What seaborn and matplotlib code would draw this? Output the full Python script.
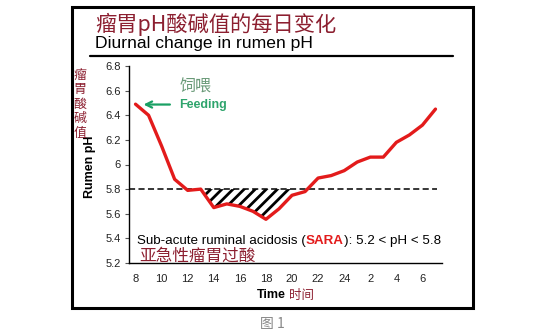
import numpy as np
import pandas as pd
import matplotlib
matplotlib.use("Agg")
import matplotlib.pyplot as plt
from matplotlib.patches import Rectangle
from matplotlib.lines import Line2D
import seaborn as sns

# ---- data ----
hours = [8, 9, 10, 11, 12, 13, 14, 15, 16, 17, 18, 19, 20, 21, 22, 23, 24, 25, 26, 27, 28, 29, 30, 31]
rumen_ph = [6.49, 6.40, 6.15, 5.88, 5.79, 5.80, 5.65, 5.68, 5.66, 5.62, 5.555, 5.64,
            5.75, 5.78, 5.89, 5.91, 5.95, 6.02, 6.06, 6.06, 6.18, 6.24, 6.32, 6.45]
tick_hours = [8, 10, 12, 14, 16, 18, 20, 22, 24, 26, 28, 30]
tick_labels = ["8", "10", "12", "14", "16", "18", "20", "22", "24", "2", "4", "6"]
y_ticks = [5.2, 5.4, 5.6, 5.8, 6.0, 6.2, 6.4, 6.6, 6.8]
y_tick_labels = ["5.2", "5.4", "5.6", "5.8", "6", "6.2", "6.4", "6.6", "6.8"]
sara_threshold = 5.8
sara_start, sara_end = 13.3, 19.9
feeding_hour, feeding_ph = 8.4, 6.487

sns.set_theme(style="white")
plt.rcParams['font.family'] = ['Liberation Sans', 'Noto Sans CJK SC']
plt.rcParams['hatch.linewidth'] = 2.0

CJK = ['Noto Sans CJK SC', 'DejaVu Sans']
DARKRED = '#8c1f30'

fig = plt.figure(figsize=(5.45, 3.36), dpi=100)
fig.patch.set_facecolor('white')
ax = fig.add_axes([129/545, 73/336, 313/545, 197/336])

df = pd.DataFrame({"hour": hours, "ph": rumen_ph})

# hatched SARA area
xs = np.linspace(sara_start, sara_end, 200)
ys = np.interp(xs, hours, rumen_ph)
ax.fill_between(xs, ys, sara_threshold, where=ys <= sara_threshold, interpolate=True,
                facecolor='white', edgecolor='black', hatch='///', linewidth=0, zorder=1)

ax.hlines(sara_threshold, 7.5, 31.1, colors='black', linestyles=(0, (4, 2.2)), linewidth=1.1, zorder=2)

sns.lineplot(data=df, x="hour", y="ph", ax=ax, color='#e31b1b', linewidth=2.4, zorder=3)

ax.set_xlim(7.5, 31.5)
ax.set_ylim(5.2, 6.8)
ax.set_xticks(tick_hours)
ax.set_xticklabels(tick_labels, fontsize=8, color='#222222')
ax.set_yticks(y_ticks)
ax.set_yticklabels(y_tick_labels, fontsize=8, color='#222222')
ax.tick_params(axis='y', left=True, direction='out', length=3, width=0.8, color='#555555', pad=3)
ax.tick_params(axis='x', bottom=False, length=0, pad=8)
for s in ['top', 'right']:
    ax.spines[s].set_visible(False)
for s in ['left', 'bottom']:
    ax.spines[s].set_color('black')
    ax.spines[s].set_linewidth(1.0)
ax.set_xlabel("")
ax.set_ylabel("Rumen pH", fontsize=9, fontweight='bold', color='black')
ax.yaxis.set_label_coords(-0.105, 0.487)

# Feeding annotation
ax.annotate("", xy=(feeding_hour, feeding_ph), xytext=(10.85, feeding_ph),
            arrowprops=dict(arrowstyle='->', color='#1aa064', lw=1.6, mutation_scale=11))
ax.text(11.35, feeding_ph, "Feeding", color='#2ea46c', fontsize=9, fontweight='bold', va='center', ha='left')
ax.text(11.35, 6.63, "饲喂", color='#6a9a78', fontsize=11.5, va='center', ha='left', family=CJK)

# SARA text
t1 = ax.text(0.026, 0.112, "Sub-acute ruminal acidosis (", transform=ax.transAxes,
             fontsize=9.6, color='black', va='center', ha='left')
t2 = ax.annotate("SARA", xy=(1, 0), xycoords=t1, va='bottom', ha='left',
                 fontsize=9.6, color='#e31b1b', fontweight='bold')
ax.annotate("): 5.2 < pH < 5.8", xy=(1, 0), xycoords=t2, va='bottom', ha='left',
            fontsize=9.6, color='black')
ax.text(0.033, 0.037, "亚急性瘤胃过酸", transform=ax.transAxes, fontsize=12, color=DARKRED,
        va='center', ha='left', family=CJK)

# Figure-level decorations
fig.patches.append(Rectangle((72/545, 28/336), 401/545, 301/336, transform=fig.transFigure,
                             fill=False, edgecolor='black', linewidth=2.2))
fig.lines.append(Line2D([90/545, 453/545], [280/336, 280/336], transform=fig.transFigure,
                        color='black', linewidth=1.6))
fig.text(95/545, (336-31)/336, "瘤胃pH酸碱值的每日变化", fontsize=15.3, color=DARKRED,
         va='baseline', ha='left', family=CJK)
fig.text(95/545, (336-48)/336, "Diurnal change in rumen pH", fontsize=12.6, color='black',
         va='baseline', ha='left')
fig.text(80/545, (336-104)/336, "瘤\n胃\n酸\n碱\n值", fontsize=9.3, color=DARKRED,
         va='center', ha='center', family=CJK, linespacing=1.15)
fig.text(286/545, (336-295)/336, "Time", fontsize=9, fontweight='bold', color='black',
         va='center', ha='right')
fig.text(289/545, (336-295)/336, "时间", fontsize=9, color=DARKRED, va='center', ha='left', family=CJK)
fig.text(272/545, (336-324)/336, "图 1", fontsize=10, color='#888888', va='center', ha='center', family=CJK)

fig.savefig("out.png", dpi=100, facecolor='white')
